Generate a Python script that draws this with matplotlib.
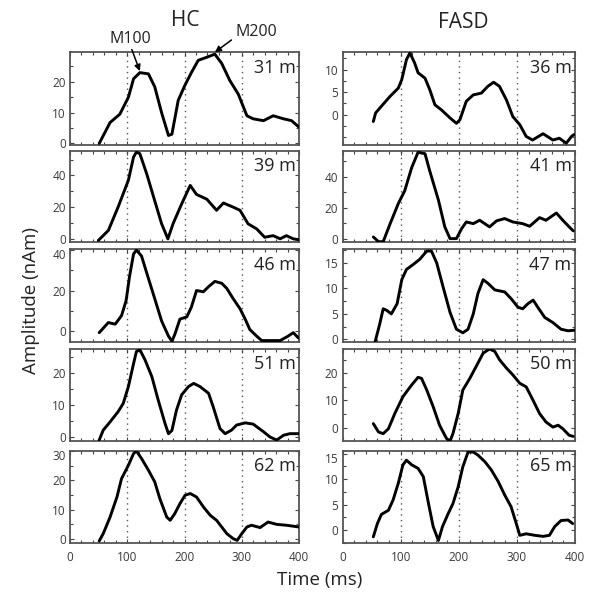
import matplotlib
matplotlib.use("Agg")
import matplotlib.pyplot as plt
from matplotlib.ticker import MultipleLocator
import matplotlib.transforms as mtransforms
import numpy as np

# ---------------- data ----------------
groups = ["HC", "FASD"]
hc_labels = ["31 m", "39 m", "46 m", "51 m", "62 m"]
fasd_labels = ["36 m", "41 m", "47 m", "50 m", "65 m"]

hc1_t = [51, 70, 87, 102, 111, 122, 137, 148, 160, 172, 178, 189, 201, 212, 224, 239, 253, 265, 279, 294, 309, 320, 338, 355, 373, 387, 400]
hc1_v = [0, 6.8, 9.5, 15, 21, 23, 22.6, 18.4, 10, 2.6, 3, 14, 19, 23, 27, 28, 29, 26, 20.5, 16, 9, 8, 7.4, 9, 8, 7.4, 5.3]

hc2_t = [49.5, 67, 84, 102, 111, 116, 122, 134, 148, 160, 171, 180, 195, 210, 221, 239, 256, 268, 285, 297, 311, 326, 340, 355, 367, 378, 390, 400]
hc2_v = [-1, 5.3, 20, 37, 51.6, 54.7, 53.7, 41, 24, 9.5, 0, 9.5, 22, 33.7, 28, 25, 18, 22.6, 20, 18, 9.5, 6.3, 1, 2, 0, 2, 0, -0.6]

hc3_t = [51, 67, 79, 90, 98, 104, 111, 116, 125, 134, 148, 160, 172, 178, 183, 192, 204, 212, 221, 233, 242, 253, 265, 274, 285, 297, 306, 314, 326, 335, 349, 367, 381, 390, 399]
hc3_v = [-0.8, 4.2, 3.4, 7.6, 15, 27, 38, 40, 37, 28.7, 16, 5, -2.5, -5, -1.7, 5.9, 7, 11.8, 20, 19.4, 21.9, 24.5, 23.6, 21, 16, 11, 5.9, 0.8, -2.5, -4.7, -4.7, -4.7, -2.5, -0.8, -3.4]

hc4_t = [51, 58, 70, 84, 93, 102, 111, 116, 122, 131, 143, 154, 166, 172, 178, 186, 195, 207, 216, 227, 242, 250, 262, 271, 282, 291, 306, 320, 338, 349, 361, 373, 384, 400]
hc4_v = [-1, 2.1, 4.7, 7.9, 10.5, 15.8, 23, 26.8, 27.4, 24.2, 18.9, 11.6, 4.2, 1, 2, 8.4, 13.2, 15.8, 16.8, 15.8, 13.7, 9.5, 2.6, 1, 2.1, 3.7, 4.4, 4, 1.6, 0, -1, 0.5, 1, 1]

hc5_t = [51, 58, 70, 82, 90, 102, 111, 116, 125, 137, 148, 157, 169, 175, 183, 192, 201, 210, 221, 233, 245, 256, 265, 274, 285, 292, 300, 309, 317, 332, 346, 361, 378, 400]
hc5_v = [-0.8, 1.7, 7.4, 14.3, 20.6, 25.2, 29.2, 30.1, 27.5, 23.5, 19.5, 13.7, 7.4, 6.3, 8.6, 12, 14.9, 15.5, 14.3, 10.9, 8, 6.3, 4, 1.7, 0, -0.6, 1.7, 4, 4.6, 3.8, 5.7, 4.9, 4.6, 4]

fa1_t = [53, 57, 67, 82, 96, 102, 110, 116, 124, 130, 142, 150, 159, 170, 185, 196, 202, 213, 225, 239, 250, 260, 270, 282, 293, 305, 316, 327, 345, 362, 373, 385, 394, 398]
fa1_v = [-1.5, 0.4, 1.9, 4.1, 5.9, 7.8, 12.2, 13.7, 11.5, 9.3, 8.1, 5.6, 2.2, 1.1, -0.7, -1.9, -1.1, 3, 4.4, 4.8, 6.3, 7.2, 6.3, 3.3, -0.4, -2.2, -4.8, -5.6, -4.2, -5.6, -5.2, -6.3, -4.8, -4.4]

fa2_t = [53, 62, 70, 82, 96, 107, 119, 130, 142, 150, 165, 176, 185, 196, 205, 213, 225, 236, 253, 265, 279, 293, 310, 322, 339, 350, 368, 379, 390, 397]
fa2_v = [1.1, -2, -2, 9.7, 22.7, 31, 46, 56, 55, 44, 25, 7.6, 0, 0, 6.5, 10.8, 9.7, 11.9, 7.6, 11.5, 13, 10.8, 9.7, 8, 13.6, 11.9, 16.6, 11.9, 7.6, 5]

fa3_t = [56, 64, 70, 76, 84, 94, 102, 110, 122, 133, 145, 153, 162, 173, 185, 196, 207, 216, 225, 233, 242, 250, 262, 279, 290, 302, 310, 319, 328, 336, 348, 362, 376, 388, 399]
fa3_v = [-0.5, 3, 6, 5.7, 5, 7, 11.7, 13.7, 14.7, 15.7, 17.3, 17.3, 15, 10.3, 5.3, 2, 1.3, 2, 5, 9, 11.7, 11, 9.7, 9.3, 8, 6.3, 6, 7, 7.7, 6.3, 4.3, 3.3, 2, 1.7, 1.8]

fa4_t = [53, 62, 70, 79, 90, 104, 119, 130, 136, 145, 156, 167, 179, 185, 190, 199, 207, 219, 230, 242, 253, 262, 270, 282, 293, 305, 316, 328, 339, 350, 362, 371, 379, 390, 397]
fa4_v = [1.5, -1.6, -2.2, -0.4, 5.2, 11.4, 15.7, 18.5, 18.1, 13.8, 7.7, 0.9, -4, -4.9, -2.2, 5.2, 13.8, 18.1, 22.5, 27.4, 28.9, 28, 25, 21.9, 19.4, 16.3, 15, 10, 5.2, 2.1, 0.2, 0.9, -0.4, -2.8, -3.2]

fa5_t = [53, 60, 67, 79, 87, 96, 104, 110, 119, 130, 139, 148, 156, 165, 172, 182, 190, 199, 207, 216, 225, 233, 245, 256, 268, 279, 290, 299, 305, 316, 331, 345, 356, 365, 376, 388, 396]
fa5_v = [-1.3, 1.3, 3.1, 3.9, 5.9, 9.2, 12.8, 13.7, 12.8, 12.1, 10.5, 5.2, 0.7, -2, 0.7, 3.3, 5.2, 8.5, 12.4, 15.3, 15.3, 14.7, 13.4, 11.8, 9.5, 6.9, 4.6, 1.3, -1, -0.7, -1, -1.2, -1, 0.7, 1.9, 2, 1.3]

hc_series = [(hc1_t, hc1_v), (hc2_t, hc2_v), (hc3_t, hc3_v), (hc4_t, hc4_v), (hc5_t, hc5_v)]
fa_series = [(fa1_t, fa1_v), (fa2_t, fa2_v), (fa3_t, fa3_v), (fa4_t, fa4_v), (fa5_t, fa5_v)]

hc_ylims = [(-0.5, 29.7), (-2, 55.4), (-5.4, 40.5), (-1.3, 27.6), (-1.5, 30.1)]
fa_ylims = [(-6.7, 13.9), (-2.2, 56.8), (-0.5, 17.7), (-4.9, 28.9), (-2.5, 15.5)]
hc_yticks = [[0, 10, 20], [0, 20, 40], [0, 20, 40], [0, 10, 20], [0, 10, 20, 30]]
fa_yticks = [[0, 5, 10], [0, 20, 40], [0, 5, 10, 15], [0, 10, 20], [0, 5, 10, 15]]
xticks = [0, 100, 200, 300, 400]

# peak annotations (label, peak point, arrow start, label position) in HC 31 m panel
peak_names = ["M100", "M200"]
peak_tips = [(122, 23.5), (253, 29.6)]
peak_arrow_from = [(108, 30.5), (282, 33.6)]
peak_text_pos = [(106, 33.8), (325, 36.3)]

# ---------------- layout ----------------
W, H = 601, 599
fig = plt.figure(figsize=(W / 100, H / 100), dpi=100)
plt.rcParams['font.family'] = ['Open Sans', 'DejaVu Sans']

rows_px = [(52, 145), (151, 242), (249, 342), (349, 441), (451, 543)]
cols_px = [(70, 299), (342.5, 575)]

tick_color = '#444444'

def make_ax(col, row):
    x0, x1 = cols_px[col]
    y0, y1 = rows_px[row]
    return fig.add_axes([x0 / W, 1 - y1 / H, (x1 - x0) / W, (y1 - y0) / H])

axes = {}
for col, (series, ylims, yt, labels) in enumerate([
        (hc_series, hc_ylims, hc_yticks, hc_labels),
        (fa_series, fa_ylims, fa_yticks, fasd_labels)]):
    for row in range(5):
        ax = make_ax(col, row)
        axes[(col, row)] = ax
        t, v = series[row]
        for g in [100, 200, 300]:
            ax.axvline(g, color='#555555', lw=1.0, ls=(0, (1, 3)), zorder=1)
        ax.plot(t, v, color='black', lw=2.1, zorder=3, solid_joinstyle='round',
                solid_capstyle='round')
        ax.set_xlim(0, 400)
        ax.set_ylim(*ylims[row])
        ax.set_yticks(yt[row])
        step = yt[row][1] - yt[row][0]
        ax.yaxis.set_minor_locator(MultipleLocator(step / 2))
        ax.set_xticks(xticks)
        ax.xaxis.set_minor_locator(MultipleLocator(20))
        ax.tick_params(axis='both', which='both', direction='in', top=True, right=True,
                       color=tick_color, labelcolor='#3a3a3a', labelsize=8.5, pad=3)
        ax.tick_params(axis='x', which='major', pad=6)
        ax.tick_params(which='major', length=3, width=0.8)
        ax.tick_params(which='minor', length=2, width=0.8)
        for sp in ax.spines.values():
            sp.set_color('#555555')
            sp.set_linewidth(1.3)
        if row < 4:
            ax.set_xticklabels([])
        top = ylims[row][1]
        rng = ylims[row][1] - ylims[row][0]
        for tk, lab in zip(yt[row], ax.get_yticklabels()):
            if top - tk < 0.04 * rng:
                lab.set_transform(lab.get_transform() +
                                  mtransforms.ScaledTranslation(0, -3 / 72, fig.dpi_scale_trans))
        ax.text(0.985, 0.93, labels[row], transform=ax.transAxes, ha='right', va='top',
                fontsize=13, color='#222222')

fig.text(185 / W, 1 - 21 / H, groups[0], ha='center', va='center', fontsize=15, color='#222222')
fig.text(463 / W, 1 - 22 / H, groups[1], ha='center', va='center', fontsize=15, color='#222222')
fig.text(31 / W, 1 - 300 / H, 'Amplitude (nAm)', rotation=90, ha='center', va='center',
         fontsize=13.5, color='#222222')
fig.text(320 / W, 1 - 580 / H, 'Time (ms)', ha='center', va='center', fontsize=13.5, color='#222222')

ax0 = axes[(0, 0)]
for name, tip, start, tpos in zip(peak_names, peak_tips, peak_arrow_from, peak_text_pos):
    ax0.text(tpos[0], tpos[1], name, ha='center', va='center', fontsize=11.5,
             color='#222222', clip_on=False)
    ax0.annotate('', xy=tip, xytext=start, textcoords='data', annotation_clip=False,
                 arrowprops=dict(arrowstyle='-|>', color='black', lw=1.1, mutation_scale=9,
                                 shrinkA=0, shrinkB=0))

fig.savefig('out.png', dpi=100)
